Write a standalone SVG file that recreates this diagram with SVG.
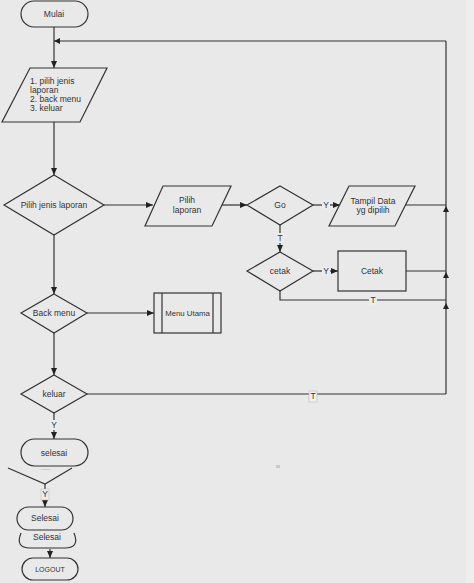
<svg xmlns="http://www.w3.org/2000/svg" width="474" height="583" viewBox="0 0 474 583">
<defs>
<marker id="ah" markerWidth="8" markerHeight="8" refX="7" refY="4" orient="auto" markerUnits="userSpaceOnUse">
<path d="M0,1 L7,4 L0,7 Z" fill="#222"/>
</marker>
<style>
.s{fill:#e9e9e9;stroke:#333;stroke-width:1.2}
.c{fill:none;stroke:#333;stroke-width:1.2}
.t{font-family:"Liberation Sans",Arial,sans-serif;font-size:8.5px;fill:#333;text-anchor:middle;dominant-baseline:central}
.tl{font-family:"Liberation Sans",Arial,sans-serif;font-size:8.5px;fill:#333}
.lb{fill:#ececec}
</style>
</defs>
<rect width="474" height="583" fill="#e9e9e9"/>
<rect x="466" y="0" width="8" height="583" fill="#eeeeee"/>

<g id="connectors">
<path class="c" d="M54,27 V68" marker-end="url(#ah)"/>
<path class="c" d="M446,41 H54"/>
<path d="M60,38 L54,41 L60,44 Z" fill="#222"/>
<path class="c" d="M54,122 V175" marker-end="url(#ah)"/>
<path class="c" d="M104,205 H153" marker-end="url(#ah)"/>
<path class="c" d="M222,205 H247" marker-end="url(#ah)"/>
<path class="c" d="M313,205 H340" marker-end="url(#ah)"/>
<path class="c" d="M280,225 V252" marker-end="url(#ah)"/>
<path class="c" d="M313,271 H338" marker-end="url(#ah)"/>
<path class="c" d="M405,205 H446"/>
<path class="c" d="M406,271 H446"/>
<path class="c" d="M280,291 V300 H446"/>
<path class="c" d="M446,394 V41"/>
<path d="M443,212 L446,206 L449,212 Z" fill="#222"/>
<path d="M443,278 L446,272 L449,278 Z" fill="#222"/>
<path d="M443,309 L446,303 L449,309 Z" fill="#222"/>
<path class="c" d="M54,235 V294" marker-end="url(#ah)"/>
<path class="c" d="M87,313 H154" marker-end="url(#ah)"/>
<path class="c" d="M54,333 V375" marker-end="url(#ah)"/>
<path class="c" d="M87,394 H446"/>
<path class="c" d="M54,413 V439" marker-end="url(#ah)"/>
<path class="c" d="M8,468 L45,484 L72,468"/>
<path class="c" d="M45,484 V507" marker-end="url(#ah)"/>
<path class="c" d="M50,549 V558" marker-end="url(#ah)"/>
<rect class="lb" x="322" y="200" width="8" height="10"/>
<text class="t" x="326" y="205">Y</text>
<rect class="lb" x="276" y="233" width="8" height="10"/>
<text class="t" x="280" y="238">T</text>
<rect class="lb" x="322" y="266" width="8" height="10"/>
<text class="t" x="326" y="271">Y</text>
<rect class="lb" x="369" y="295" width="8" height="10"/>
<text class="t" x="373" y="300">T</text>
<rect x="309" y="391" width="8" height="11" fill="#f0f0f0" stroke="#bbb" stroke-width="0.6"/>
<text class="t" x="313" y="396">T</text>
<rect class="lb" x="50" y="420" width="8" height="10"/>
<text class="t" x="54" y="425">Y</text>
<rect x="41" y="489" width="8" height="11" fill="#ececec" stroke="#bbb" stroke-width="0.5"/>
<text class="t" x="45" y="494">Y</text>
</g>

<g id="mulai">
<rect class="s" x="21" y="1" width="67" height="26" rx="13"/>
<text class="t" x="54" y="14">Mulai</text>
</g>

<g id="menu-input">
<path class="s" d="M30,68 H107 L80,122 H2 Z"/>
<text class="tl" x="30" y="84">1. pilih jenis</text>
<text class="tl" x="30" y="93">laporan</text>
<text class="tl" x="30" y="102">2. back menu</text>
<text class="tl" x="30" y="111">3. keluar</text>
</g>

<g id="pilih-jenis">
<path class="s" d="M54,175 L104,205 L54,235 L4,205 Z"/>
<text class="t" x="54" y="205">Pilih jenis laporan</text>
</g>

<g id="pilih-laporan">
<path class="s" d="M163,186 H231 L212,226 H145 Z"/>
<text class="t" x="187" y="200">Pilih</text>
<text class="t" x="187" y="210">laporan</text>
</g>

<g id="go">
<path class="s" d="M280,186 L313,205 L280,225 L247,205 Z"/>
<text class="t" x="280" y="205">Go</text>
</g>

<g id="tampil-data">
<path class="s" d="M349,186 H415 L395,226 H329 Z"/>
<text class="t" x="373" y="201">Tampil Data</text>
<text class="t" x="373" y="210">yg dipilih</text>
</g>

<g id="cetak-decision">
<path class="s" d="M280,252 L313,271 L280,291 L247,271 Z"/>
<text class="t" x="280" y="271">cetak</text>
</g>

<g id="cetak">
<rect class="s" x="338" y="251" width="68" height="40"/>
<text class="t" x="372" y="271">Cetak</text>
</g>

<g id="back-menu">
<path class="s" d="M54,294 L87,313 L54,333 L21,313 Z"/>
<text class="t" x="54" y="313">Back menu</text>
</g>

<g id="menu-utama">
<rect class="s" x="154" y="293" width="67" height="40"/>
<path class="c" d="M162,293 V333 M213,293 V333"/>
<text class="t" x="187.5" y="313" style="font-size:7.8px">Menu Utama</text>
</g>

<g id="keluar">
<path class="s" d="M54,375 L87,394 L54,413 L21,394 Z"/>
<text class="t" x="54" y="394">keluar</text>
</g>

<g id="selesai1">
<rect class="s" x="21" y="439" width="67" height="27" rx="13.5"/>
<text class="t" x="54" y="453">selesai</text>
<text class="t" x="45" y="469" style="font-size:3px">. ...........</text>
</g>

<g id="selesai2">
<rect class="s" x="17" y="507" width="56" height="23" rx="11.5"/>
<text class="t" x="45" y="518">Selesai</text>
</g>

<g id="selesai3">
<path class="c" d="M21,533 Q15,548 30,548 H65 Q80,548 74,533"/>
<text class="t" x="47" y="537">Selesai</text>
</g>

<g id="logout">
<rect class="s" x="22" y="558" width="56" height="22" rx="11"/>
<text class="t" x="50" y="569" style="font-size:7px">LOGOUT</text>
</g>

<rect x="276" y="465" width="4" height="3" fill="#c8c8c8"/>
</svg>
